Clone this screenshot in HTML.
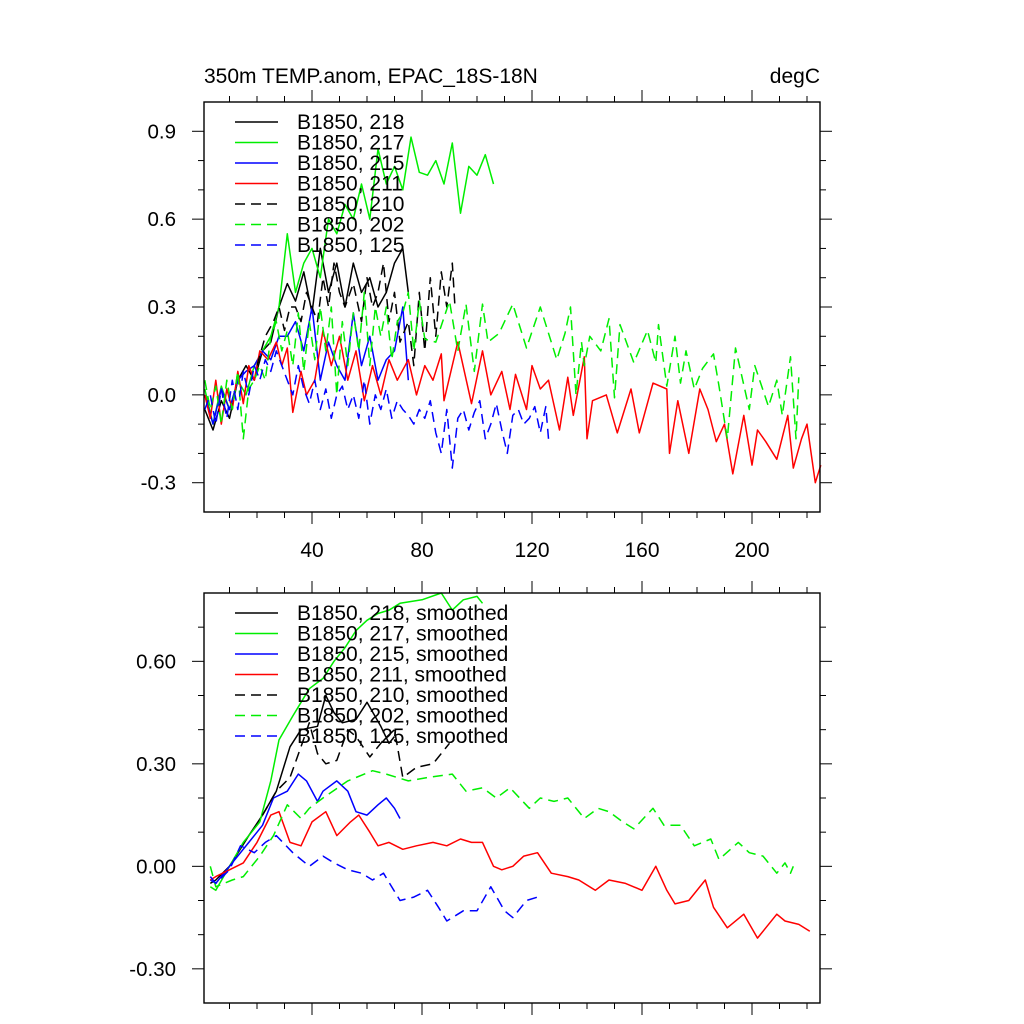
<!DOCTYPE html>
<html><head><meta charset="utf-8"><style>
html,body{margin:0;padding:0;background:#fff;}
svg{display:block;font-family:"Liberation Sans",sans-serif;}
</style></head><body>
<svg id="chart" width="1024" height="1024" viewBox="0 0 1024 1024"></svg>
<script>
// ---- data (x index, value) ----
const top218x=[1,4,7,10,13,16,19,22,25,28,31,34,37,40,43,46,49,52,55,58,61,64,67,70,73,75];
const top218y=[-0.05,-0.12,-0.02,-0.08,0.05,0.1,0.05,0.15,0.18,0.3,0.38,0.32,0.42,0.28,0.5,0.35,0.45,0.3,0.45,0.35,0.4,0.3,0.35,0.45,0.5,0.35];
const top217x=[1,4,7,10,13,16,19,22,25,28,31,34,37,40,43,46,49,52,55,58,61,64,67,70,73,76,79,82,85,88,91,94,97,100,103,106];
const top217y=[0.02,-0.1,0.03,-0.05,0.05,0.0,0.1,0.15,0.2,0.3,0.55,0.35,0.45,0.5,0.4,0.6,0.55,0.65,0.6,0.72,0.6,0.84,0.72,0.78,0.7,0.88,0.76,0.75,0.8,0.72,0.86,0.62,0.78,0.75,0.82,0.72];
const top215x=[1,4,7,10,13,16,19,22,25,28,31,34,37,40,43,46,49,52,55,58,61,64,67,70,73,75];
const top215y=[0.0,-0.1,0.02,-0.05,0.05,0.08,0.1,0.15,0.12,0.2,0.2,0.25,0.15,0.3,0.05,0.18,0.1,0.05,0.28,0.1,0.2,0.05,0.12,0.15,0.3,0.05];
const top211x=[1,3,5,7,9,11,13,15,17,19,21,24,27,29,31,33,36,38,41,44,47,50,53,56,59,62,65,68,71,75,78,81,84,87,88,93,98,102,105,109,112,114,118,120,123,126,130,133,135,139,140,142,147,151,156,159,164,169,170,173,177,181,184,187,190,193,197,200,202,205,209,213,215,218,220,223,225];
const top211y=[0.0,-0.08,0.05,-0.1,0.02,-0.05,0.08,-0.03,0.1,0.05,0.15,0.12,0.18,0.1,0.16,-0.06,0.08,0.0,0.05,0.22,0.1,0.2,0.05,0.15,-0.02,0.1,0.0,0.12,0.05,0.12,0.0,0.1,0.05,0.14,-0.02,0.18,-0.03,0.15,0.0,0.08,-0.05,0.07,-0.05,0.1,0.02,0.05,-0.12,0.06,-0.07,0.13,-0.15,-0.02,0.0,-0.13,0.02,-0.13,0.04,0.02,-0.2,-0.02,-0.2,0.02,-0.05,-0.16,-0.1,-0.27,-0.07,-0.24,-0.12,-0.16,-0.22,-0.07,-0.25,-0.15,-0.1,-0.3,-0.24];
const top210x=[20,23,26,28,30,32,34,36,38,40,42,44,46,48,50,52,55,58,60,62,64,66,68,70,72,75,77,79,81,83,85,87,89,91,92];
const top210y=[0.1,0.2,0.25,0.3,0.22,0.3,0.3,0.25,0.35,0.3,0.25,0.4,0.3,0.45,0.35,0.3,0.38,0.25,0.4,0.3,0.35,0.45,0.25,0.35,0.18,0.25,0.1,0.35,0.15,0.4,0.2,0.42,0.3,0.45,0.3];
const top202x=[1,3,5,7,9,11,13,15,17,19,21,23,25,27,29,31,33,35,37,39,41,43,45,47,49,51,53,55,57,59,61,63,65,67,69,71,73,75,77,79,81,85,90,93,96,99,102,104,108,113,118,123,129,132,134,136,138,139,141,145,148,150,152,157,162,165,166,169,172,174,176,179,182,186,188,191,194,199,201,206,209,211,214,216,217];
const top202y=[0.05,-0.05,0.03,-0.1,0.05,-0.05,0.08,-0.15,0.02,0.05,0.1,0.05,0.2,0.25,0.15,0.22,0.1,0.28,0.08,0.25,0.12,0.3,0.15,0.3,0.0,0.25,0.1,0.28,0.15,0.35,0.1,0.3,0.2,0.3,0.12,0.25,0.28,0.35,0.15,0.32,0.19,0.18,0.32,0.15,0.31,0.08,0.31,0.18,0.21,0.31,0.16,0.3,0.12,0.21,0.3,0.0,0.18,0.1,0.2,0.15,0.26,-0.01,0.24,0.11,0.22,0.11,0.24,0.03,0.2,0.04,0.15,0.02,0.09,0.14,0.03,-0.15,0.16,-0.05,0.1,-0.04,0.05,-0.07,0.13,-0.15,0.06];
const top125x=[1,3,5,7,9,11,13,15,17,19,21,23,25,27,29,31,33,35,37,39,41,43,45,47,49,51,53,55,57,59,61,63,65,67,69,71,73,75,77,79,81,83,85,87,89,91,93,95,97,99,101,103,105,107,109,111,113,115,117,119,121,123,125,126];
const top125y=[-0.05,0.0,-0.1,0.02,-0.08,0.05,-0.05,0.08,0.0,0.1,0.05,0.12,0.08,0.15,0.1,0.05,0.0,0.1,0.02,-0.03,0.05,-0.05,0.02,-0.08,0.0,0.03,-0.05,0.0,-0.08,0.05,-0.1,0.0,-0.05,0.02,-0.08,-0.02,-0.05,-0.07,-0.1,-0.05,-0.08,-0.02,-0.13,-0.2,-0.05,-0.25,-0.08,-0.05,-0.12,-0.06,-0.02,-0.15,-0.1,-0.03,-0.12,-0.2,-0.07,-0.05,-0.1,-0.08,-0.04,-0.13,-0.04,-0.15];

const bot218x=[3,5,10,17,22,27,32,36,42,45,48,51,56,60,65,68,70];
const bot218y=[-0.05,-0.04,0.0,0.09,0.15,0.22,0.35,0.4,0.41,0.5,0.45,0.42,0.43,0.48,0.41,0.36,0.38];
const bot217x=[3,5,10,15,21,25,28,33,39,44,48,52,56,60,64,68,72,80,87,91,95,100,102];
const bot217y=[-0.06,-0.07,0.0,0.07,0.13,0.25,0.37,0.44,0.52,0.55,0.6,0.64,0.69,0.72,0.74,0.75,0.77,0.78,0.8,0.75,0.78,0.79,0.77];
const bot215x=[3,5,10,17,22,26,31,35,38,42,44,49,53,56,60,64,67,70,72];
const bot215y=[-0.04,-0.05,0.0,0.07,0.12,0.2,0.22,0.27,0.25,0.19,0.22,0.25,0.22,0.16,0.15,0.18,0.2,0.17,0.14];
const bot211x=[3,5,10,15,20,25,28,32,36,40,45,49,54,57,61,64,68,73,78,84,89,94,98,102,106,109,113,117,122,127,133,137,143,148,154,160,165,169,172,177,183,186,191,197,202,205,209,212,217,221];
const bot211y=[-0.04,-0.03,-0.01,0.01,0.07,0.15,0.16,0.07,0.06,0.13,0.16,0.09,0.13,0.15,0.1,0.06,0.07,0.05,0.06,0.07,0.06,0.08,0.07,0.07,0.0,-0.01,0.0,0.03,0.04,-0.02,-0.03,-0.04,-0.07,-0.04,-0.05,-0.07,0.0,-0.07,-0.11,-0.1,-0.04,-0.12,-0.18,-0.14,-0.21,-0.18,-0.14,-0.16,-0.17,-0.19];
const bot210x=[22,27,32,36,39,42,45,49,53,56,61,66,70,73,78,84,90];
const bot210y=[0.15,0.22,0.26,0.35,0.42,0.33,0.3,0.31,0.4,0.38,0.32,0.37,0.4,0.26,0.29,0.3,0.36];
const bot202x=[3,5,11,15,21,26,31,36,39,44,53,62,67,75,82,91,96,102,107,112,119,123,128,133,139,144,148,153,157,164,168,174,179,185,188,195,199,204,209,212,214,215];
const bot202y=[0.0,-0.06,-0.04,-0.03,0.03,0.09,0.18,0.14,0.17,0.2,0.25,0.28,0.27,0.25,0.26,0.27,0.22,0.23,0.2,0.23,0.17,0.2,0.19,0.2,0.14,0.17,0.16,0.13,0.11,0.17,0.12,0.12,0.06,0.08,0.02,0.07,0.04,0.03,-0.02,0.01,-0.02,0.0];
const bot125x=[3,5,10,14,19,23,27,33,39,44,48,53,58,62,66,72,77,82,86,89,95,100,105,110,113,118,122];
const bot125y=[-0.03,-0.05,-0.01,0.06,0.04,0.07,0.09,0.04,0.0,0.03,0.01,-0.01,-0.02,-0.04,-0.02,-0.1,-0.09,-0.07,-0.12,-0.16,-0.13,-0.13,-0.06,-0.13,-0.15,-0.1,-0.09];

const legendNames=["B1850, 218","B1850, 217","B1850, 215","B1850, 211","B1850, 210","B1850, 202","B1850, 125"];
const topYTicks=[0.9,0.6,0.3,0.0,-0.3];
const topYLabels=["0.9","0.6","0.3","0.0","-0.3"];
const botYTicks=[0.6,0.3,0.0,-0.3];
const botYLabels=["0.60","0.30","0.00","-0.30"];
const xTicks=[40,80,120,160,200];
const xLabels=["40","80","120","160","200"];

const NS="http://www.w3.org/2000/svg";
const svg=document.getElementById('chart');
function mk(tag,attrs,parent){const e=document.createElementNS(NS,tag);for(const k in attrs)e.setAttribute(k,attrs[k]);(parent||svg).appendChild(e);return e;}

const styles=[
 {c:"#000",d:null},{c:"#00ee00",d:null},{c:"#0000ff",d:null},{c:"#ff0000",d:null},
 {c:"#000",d:"10,6"},{c:"#00ee00",d:"10,6"},{c:"#0000ff",d:"10,6"}];
const keys=["218","217","215","211","210","202","125"];

function panel(cfg){
  const L=204,R=820,T=cfg.top,B=cfg.bottom;
  const sx=v=>202+(v)*2.75;
  const sy=v=>T+(cfg.ymax-v)/(cfg.ymax-cfg.ymin)*(B-T);
  const g=mk('g',{});
  
  
  cfg.series.forEach((s,i)=>{
    let d="";
    s[0].forEach((x,j)=>{d+=(j?"L":"M")+sx(x).toFixed(1)+","+sy(s[1][j]).toFixed(1);});
    const p=mk('path',{d:d,fill:"none",stroke:styles[i].c,"stroke-width":1.5,"stroke-linejoin":"round"},g);
    if(styles[i].d)p.setAttribute('stroke-dasharray',styles[i].d);
    
    
  });
  const fr=mk('rect',{x:L,y:T,width:R-L,height:B-T,fill:"none",stroke:"#000","stroke-width":1.4},g);
  
  
  for(let v=10;v<=220;v+=10){
    const major=v%40===0;const len=major?12:6;const x=sx(v);
    mk('line',{x1:x,x2:x,y1:B,y2:B+len,stroke:"#000","stroke-width":1},g);
    mk('line',{x1:x,x2:x,y1:T,y2:T-len,stroke:"#000","stroke-width":1},g);
  }
  if(cfg.xlabels){
    xTicks.forEach((v,i)=>{
      const t=mk('text',{x:sx(v),y:B+45,"font-size":21,"text-anchor":"middle"},g);
      t.textContent=xLabels[i];
      
      
    });
  }
  for(let k=Math.ceil(cfg.ymin*10+0.001);k<=Math.floor(cfg.ymax*10-0.001);k++){
    const v=k/10;const major=cfg.yt.some(t=>Math.abs(t-v)<1e-6);const len=major?12:6;const y=sy(v);
    mk('line',{x1:L,x2:L-len,y1:y,y2:y,stroke:"#000","stroke-width":1},g);
    mk('line',{x1:R,x2:R+len,y1:y,y2:y,stroke:"#000","stroke-width":1},g);
  }
  cfg.yt.forEach((v,i)=>{
    const t=mk('text',{x:176,y:sy(v)+7,"font-size":20.5,"text-anchor":"end"},g);
    t.textContent=cfg.yl[i];
    
    
  });
  legendNames.forEach((n,i)=>{
    const y=cfg.legY+i*20.5;
    const ln=mk('line',{x1:235,x2:278,y1:y,y2:y,stroke:styles[i].c,"stroke-width":1.5},g);
    if(styles[i].d)ln.setAttribute('stroke-dasharray',styles[i].d);
    
    
    const t=mk('text',{x:297,y:y+7,"font-size":21},g);
    t.textContent=n+cfg.suffixText;
    
    
  });
}

panel({name:"top-panel",top:102,bottom:512,ymin:-0.4,ymax:1.0,yt:topYTicks,yl:topYLabels,xlabels:true,legY:122,suffix:"",suffixText:"",
 series:[[top218x,top218y],[top217x,top217y],[top215x,top215y],[top211x,top211y],[top210x,top210y],[top202x,top202y],[top125x,top125y]]});
panel({name:"bottom-panel",top:593,bottom:1003,ymin:-0.4,ymax:0.8,yt:botYTicks,yl:botYLabels,xlabels:false,legY:613,suffix:"-smoothed",suffixText:", smoothed",
 series:[[bot218x,bot218y],[bot217x,bot217y],[bot215x,bot215y],[bot211x,bot211y],[bot210x,bot210y],[bot202x,bot202y],[bot125x,bot125y]]});

const t1=mk('text',{x:204,y:83,"font-size":21});
t1.textContent="350m TEMP.anom, EPAC_18S-18N";


const t2=mk('text',{x:820,y:83,"font-size":21,"text-anchor":"end"});
t2.textContent="degC";


</script>
</body></html>
